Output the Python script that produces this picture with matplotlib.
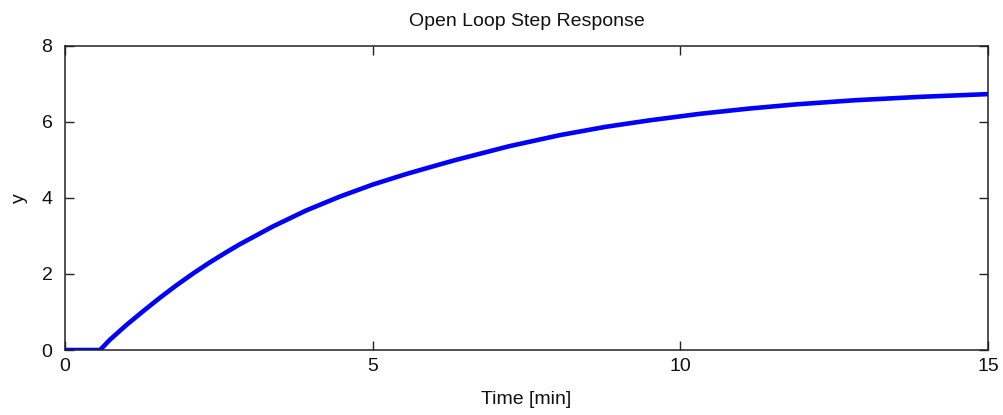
import matplotlib
matplotlib.use("Agg")
import matplotlib.pyplot as plt
from matplotlib import font_manager

# narrow Helvetica-like face if there is one, else plain Liberation Sans
names = {f.name for f in font_manager.fontManager.ttflist}
face = 'Liberation Sans Narrow' if 'Liberation Sans Narrow' in names else 'Liberation Sans'
plt.rcParams['font.family'] = [face, 'DejaVu Sans']

# open loop step response, time in minutes
t = [0.0, 0.57, 0.73, 1.0, 1.27, 1.54, 1.81, 2.08, 2.35, 2.62, 2.84, 3.38,
     3.92, 4.46, 5.0, 5.55, 6.09, 6.38, 7.22, 8.04, 8.79, 9.50, 10.31,
     11.12, 11.88, 12.85, 13.93, 15.0]
y = [0.0, 0.0, 0.27, 0.66, 1.02, 1.37, 1.70, 2.01, 2.30, 2.57, 2.78, 3.25,
     3.67, 4.03, 4.35, 4.63, 4.88, 5.01, 5.36, 5.65, 5.87, 6.04, 6.21,
     6.35, 6.46, 6.57, 6.66, 6.73]

xticks = [0, 5, 10, 15]
yticks = [0, 2, 4, 6, 8]

fig = plt.figure(figsize=(10.04, 4.15), dpi=100)
ax = fig.add_axes([0.0647, 0.1566, 0.9193, 0.733])

ax.plot(t, y, color='#0000ff', linewidth=3.3, solid_joinstyle='round')

ax.set_xlim(0, 15)
ax.set_ylim(0, 8)
ax.set_xticks(xticks)
ax.set_yticks(yticks)
ax.tick_params(direction='in', top=True, right=True, length=6.5, width=1.0,
               labelsize=14, color='#222222', labelcolor='#111111')
ax.tick_params(axis='y', pad=9)
ax.tick_params(axis='x', pad=6)
for s in ax.spines.values():
    s.set_linewidth(1.1)
    s.set_color('#222222')

ax.set_title('Open Loop Step Response', fontsize=14, pad=14, color='#111111')
ax.set_xlabel('Time [min]', fontsize=14, va='center', color='#111111')
ax.xaxis.set_label_coords(0.5, -50 / 304.3)
ax.set_ylabel('y', fontsize=14, va='center', color='#111111')
ax.yaxis.set_label_coords(-45 / 922.0, 0.5)

fig.savefig('out.png', dpi=100)
